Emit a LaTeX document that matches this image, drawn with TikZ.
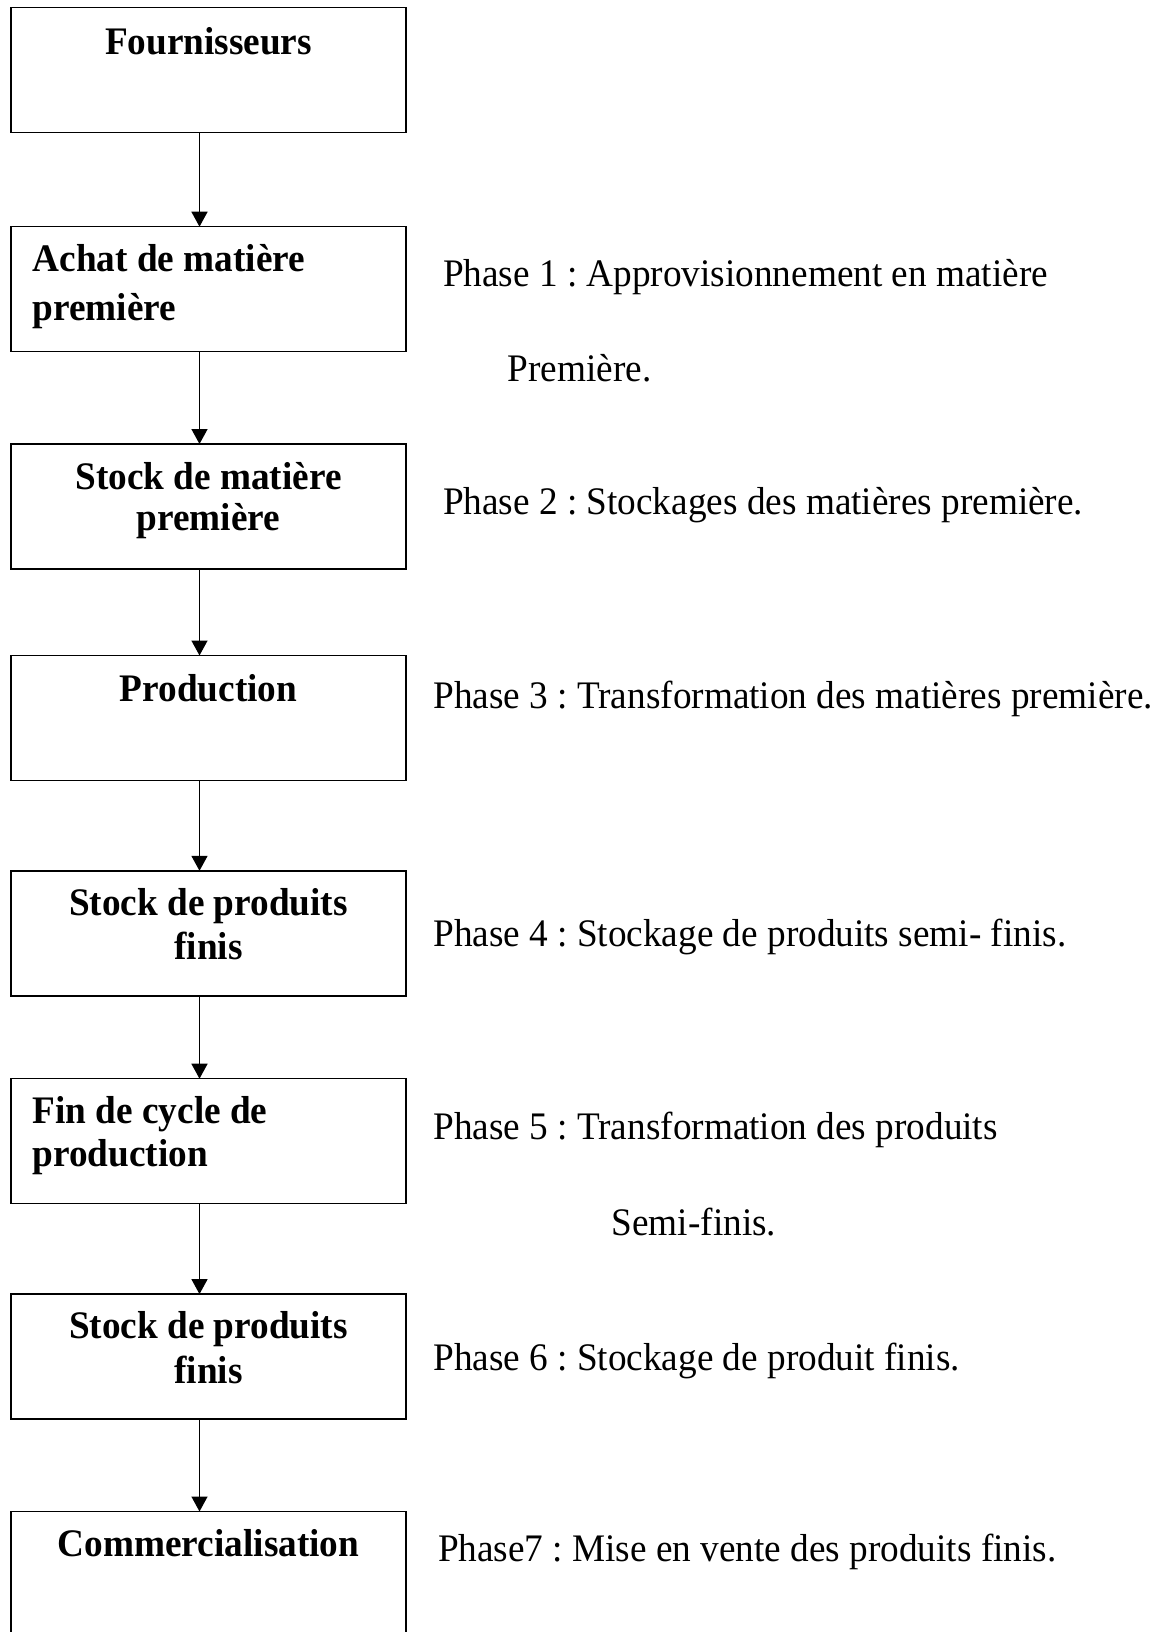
\documentclass[tikz,border=0pt]{standalone}
\usepackage{fontspec}
\setmainfont{Liberation Serif}[FakeStretch=0.955]
\usetikzlibrary{arrows.meta}
\frenchspacing
\begin{document}
\begin{tikzpicture}[x=1pt,y=-1pt,
  box/.style={draw, line width=1.5pt, minimum width=395pt, minimum height=125pt, inner sep=0pt, outer sep=0pt},
  btxt/.style={inner sep=0pt, outer sep=0pt, font=\fontsize{39}{44}\selectfont\bfseries},
  ptxt/.style={inner sep=0pt, outer sep=0pt, anchor=base west, font=\fontsize{39}{44}\selectfont},
  arr/.style={line width=1.5pt, -{Triangle[width=16pt,length=15pt]}}]
\useasboundingbox (0,0) rectangle (1162,1632);
\fill[white] (0,0) rectangle (1162,1632);
% boxes
\node[box] (b1) at (208.5,70) {};
\node[box] (b2) at (208.5,289.2) {};
\node[box] (b3) at (208.5,506.5) {};
\node[box] (b4) at (208.5,718) {};
\node[box] (b5) at (208.5,933.3) {};
\node[box] (b6) at (208.5,1141.2) {};
\node[box] (b7) at (208.5,1356.6) {};
\node[box] (b8) at (208.5,1574) {};
% box texts
\node[btxt, anchor=base] (t1) at (208.5,54.3) {Fournisseurs};
\node[btxt, anchor=base west] (t2a) at (32.7,271.7) {Achat de matière};
\node[btxt, anchor=base west] (t2b) at (32.7,320) {première};
\node[btxt, anchor=base] (t3a) at (208.5,489) {Stock de matière};
\node[btxt, anchor=base] (t3b) at (208.5,530) {première};
\node[btxt, anchor=base] (t4) at (208.5,701.7) {Production};
\node[btxt, anchor=base] (t5a) at (208.5,915) {Stock de produits};
\node[btxt, anchor=base] (t5b) at (208.5,959) {finis};
\node[btxt, anchor=base west] (t6a) at (32.7,1123.3) {Fin de cycle de};
\node[btxt, anchor=base west] (t6b) at (32.7,1166.7) {production};
\node[btxt, anchor=base] (t7a) at (208.5,1338.3) {Stock de produits};
\node[btxt, anchor=base] (t7b) at (208.5,1383.3) {finis};
\node[btxt, anchor=base] (t8) at (208.5,1556.7) {Commercialisation};
% arrows
\draw[arr] ([xshift=-9pt]b1.south) -- ([xshift=-9pt]b2.north);
\draw[arr] ([xshift=-9pt]b2.south) -- ([xshift=-9pt]b3.north);
\draw[arr] ([xshift=-9pt]b3.south) -- ([xshift=-9pt]b4.north);
\draw[arr] ([xshift=-9pt]b4.south) -- ([xshift=-9pt]b5.north);
\draw[arr] ([xshift=-9pt]b5.south) -- ([xshift=-9pt]b6.north);
\draw[arr] ([xshift=-9pt]b6.south) -- ([xshift=-9pt]b7.north);
\draw[arr] ([xshift=-9pt]b7.south) -- ([xshift=-9pt]b8.north);
% phase texts
\node[ptxt] (p1) at (443,286) {Phase 1 : Approvisionnement en matière};
\node[ptxt] (p1b) at (507.6,381.7) {Première.};
\node[ptxt] (p2) at (443,514) {Phase 2 : Stockages des matières première.};
\node[ptxt] (p3) at (433.3,708) {Phase 3 : Transformation des matières première.};
\node[ptxt] (p4) at (433.3,946.7) {Phase 4 : Stockage de produits semi- finis.};
\node[ptxt] (p5) at (433.3,1139.3) {Phase 5 : Transformation des produits};
\node[ptxt] (p5b) at (611.7,1235) {Semi-finis.};
\node[ptxt] (p6) at (433.3,1370) {Phase 6 : Stockage de produit finis.};
\node[ptxt] (p7) at (438,1561.7) {Phase7 : Mise en vente des produits finis.};
\end{tikzpicture}
\end{document}
